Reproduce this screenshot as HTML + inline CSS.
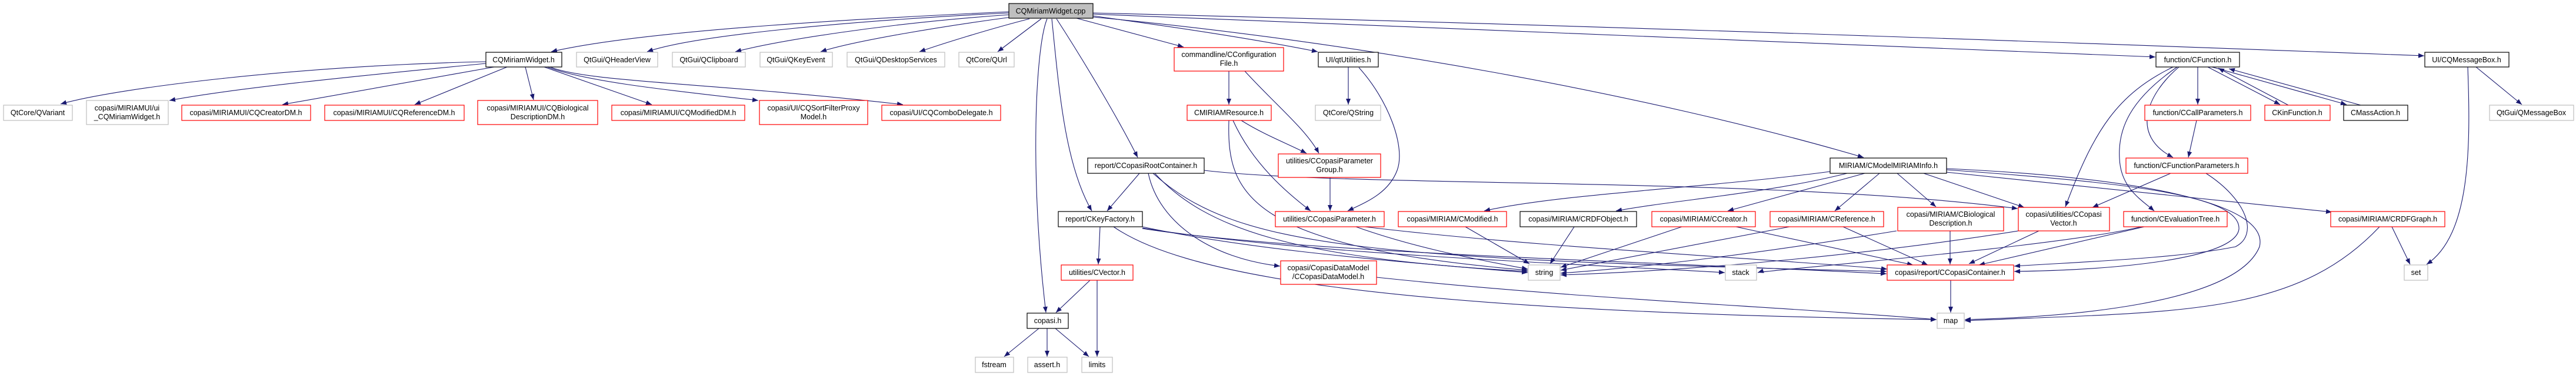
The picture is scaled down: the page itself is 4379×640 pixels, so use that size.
<!DOCTYPE html>
<html><head><meta charset="utf-8"><style>
html,body{margin:0;padding:0;background:#fff;}
svg{display:block;}
text{font-family:"Liberation Sans",sans-serif;font-size:12.5px;fill:#000;}
.e{fill:none;stroke:#191970;stroke-width:1.1;marker-end:url(#a);}
.k{fill:#fff;stroke:#000;stroke-width:1.2;}
.r{fill:#fff;stroke:#ff0000;stroke-width:1.2;}
.g{fill:#fff;stroke:#bfbfbf;stroke-width:1.2;}
</style></head><body>
<svg width="4379" height="640" viewBox="0 0 4379 640" xmlns="http://www.w3.org/2000/svg">
<defs><marker id="a" markerUnits="userSpaceOnUse" markerWidth="11" markerHeight="8" refX="10" refY="4" orient="auto"><path d="M0,0 L10,4 L0,8 z" fill="#191970"/></marker></defs>
<g>
<!-- from cpp -->
<path class="e" d="M1715,20 C1500,30 1100,50 937,88"/>
<path class="e" d="M1715,22 C1450,35 1180,60 1100,88"/>
<path class="e" d="M1716,25 C1500,40 1320,70 1250,88"/>
<path class="e" d="M1720,29 C1600,45 1450,70 1395,88"/>
<path class="e" d="M1750,32 C1680,50 1600,75 1563,88"/>
<path class="e" d="M1770,32 L1696,88"/>
<path class="e" d="M1780,32 C1760,80 1750,300 1778,532"/>
<path class="e" d="M1788,32 C1800,150 1810,280 1856,359"/>
<path class="e" d="M1796,32 C1840,100 1900,200 1934,268"/>
<path class="e" d="M1830,31 L2012,80"/>
<path class="e" d="M1858,27 C1950,40 2100,60 2240,88"/>
<path class="e" d="M1858,29 C2300,70 2800,160 3168,268"/>
<path class="e" d="M1858,24 Q2600,50 3664,97"/>
<path class="e" d="M1858,22 Q2800,45 4121,95"/>
<!-- CQMiriamWidget.h -->
<path class="e" d="M826,105 C500,112 200,150 103,177"/>
<path class="e" d="M826,108 C600,130 400,150 288,171"/>
<path class="e" d="M840,114 L480,178"/>
<path class="e" d="M862,114 L705,178"/>
<path class="e" d="M893,114 L907,170"/>
<path class="e" d="M925,114 L1108,178"/>
<path class="e" d="M930,114 C1000,140 1150,155 1289,171"/>
<path class="e" d="M935,114 C1000,140 1200,140 1535,178"/>
<!-- config / resource -->
<path class="e" d="M2089,121 L2089,178"/>
<path class="e" d="M2116,121 C2170,180 2220,220 2242,261"/>
<path class="e" d="M2110,205 C2150,230 2190,245 2221,261"/>
<path class="e" d="M2096,205 C2130,280 2190,330 2228,359"/>
<path class="e" d="M2089,205 C2085,330 2120,420 2597,460"/>
<path class="e" d="M2292,114 L2292,178"/>
<path class="e" d="M2310,115 C2360,170 2390,250 2375,290 C2360,330 2320,345 2291,359"/>
<path class="e" d="M2261,302 L2261,359"/>
<path class="e" d="M2305,386 C2400,420 2500,440 2597,458"/>
<path class="e" d="M2320,386 C2600,420 3000,440 3208,458"/>
<!-- root container / key factory -->
<path class="e" d="M1937,295 L1882,359"/>
<path class="e" d="M1952,295 C1970,380 2060,440 2176,453"/>
<path class="e" d="M2047,290 C2300,320 3000,300 3430,355"/>
<path class="e" d="M1963,295 C2050,390 2200,440 2597,462"/>
<path class="e" d="M1960,295 C2100,420 2300,440 3207,462"/>
<path class="e" d="M1870,386 L1867,450"/>
<path class="e" d="M1942,386 C2100,420 2300,440 2597,464"/>
<path class="e" d="M1942,388 C2200,430 2600,445 2932,464"/>
<path class="e" d="M1942,389 C2200,430 2800,445 3207,466"/>
<path class="e" d="M1893,386 C2000,460 2300,530 3292,544"/>
<path class="e" d="M2340,472 C2700,510 3000,520 3292,544"/>
<!-- CVector / copasi.h -->
<path class="e" d="M1853,477 L1795,532"/>
<path class="e" d="M1865,477 L1865,607"/>
<path class="e" d="M1766,559 L1707,607"/>
<path class="e" d="M1780,559 L1780,607"/>
<path class="e" d="M1794,559 L1851,607"/>
<!-- ModelMIRIAMInfo -->
<path class="e" d="M3111,292 C2900,320 2650,330 2523,359"/>
<path class="e" d="M3140,295 C3000,330 2850,340 2747,359"/>
<path class="e" d="M3170,295 L2937,359"/>
<path class="e" d="M3195,295 L3119,359"/>
<path class="e" d="M3225,295 L3291,352"/>
<path class="e" d="M3270,295 L3441,353"/>
<path class="e" d="M3308,293 L3964,361"/>
<path class="e" d="M3309,289 C3600,310 3810,330 3806,390 C3800,440 3600,460 3424,462"/>
<path class="e" d="M3309,287 C3600,300 3860,340 3841,420 C3800,520 3500,540 3340,544"/>
<path class="e" d="M3750,295 C3820,340 3840,400 3800,420 C3700,440 3550,445 3424,453"/>
<!-- MIRIAM row -->
<path class="e" d="M2491,386 L2600,449"/>
<path class="e" d="M2676,386 L2635,449"/>
<path class="e" d="M2859,386 L2653,455"/>
<path class="e" d="M2951,386 L3252,451"/>
<path class="e" d="M3042,386 L2653,460"/>
<path class="e" d="M3133,386 L3277,451"/>
<path class="e" d="M3224,393 C3000,430 2800,455 2653,465"/>
<path class="e" d="M3315,393 L3315,450"/>
<path class="e" d="M3431,393 C3200,430 2900,460 2653,468"/>
<path class="e" d="M3466,393 L3347,449"/>
<path class="e" d="M3645,386 L3364,451"/>
<path class="e" d="M3640,386 C3500,420 3000,460 2988,464"/>
<path class="e" d="M3316,477 L3316,532"/>
<!-- function -->
<path class="e" d="M3690,295 L3557,353"/>
<path class="e" d="M3694,114 C3600,160 3560,220 3511,352"/>
<path class="e" d="M3701,114 C3620,170 3600,220 3603,270 C3605,320 3640,340 3662,359"/>
<path class="e" d="M3704,114 C3650,160 3620,230 3694,268"/>
<path class="e" d="M3736,114 L3736,178"/>
<path class="e" d="M3753,114 L3876,178"/>
<path class="e" d="M3760,114 L3989,178"/>
<path class="e" d="M3890,179 L3771,116"/>
<path class="e" d="M4013,179 L3789,117"/>
<path class="e" d="M3734,205 L3720,268"/>
<path class="e" d="M4209,114 L4287,178"/>
<path class="e" d="M4195,114 C4200,250 4200,400 4125,450"/>
<path class="e" d="M4066,386 L4097,450"/>
<path class="e" d="M4045,386 C3900,540 3700,530 3340,546"/>
</g>
<g>
<rect class="k" x="1715" y="6" width="143" height="25" style="fill:#bfbfbf"/><text x="1786" y="23" text-anchor="middle">CQMiriamWidget.cpp</text>
<rect class="k" x="826" y="89" width="129" height="25"/><text x="890" y="106" text-anchor="middle">CQMiriamWidget.h</text>
<rect class="g" x="980" y="89" width="138" height="25"/><text x="1049" y="106" text-anchor="middle">QtGui/QHeaderView</text>
<rect class="g" x="1143" y="89" width="124" height="25"/><text x="1205" y="106" text-anchor="middle">QtGui/QClipboard</text>
<rect class="g" x="1292" y="89" width="123" height="25"/><text x="1353" y="106" text-anchor="middle">QtGui/QKeyEvent</text>
<rect class="g" x="1440" y="89" width="166" height="25"/><text x="1523" y="106" text-anchor="middle">QtGui/QDesktopServices</text>
<rect class="g" x="1630" y="89" width="94" height="25"/><text x="1677" y="106" text-anchor="middle">QtCore/QUrl</text>
<rect class="r" x="1996" y="81" width="186" height="40"/><text x="2089" y="97" text-anchor="middle">commandline/CConfiguration</text><text x="2089" y="112" text-anchor="middle">File.h</text>
<rect class="k" x="2241" y="89" width="102" height="25"/><text x="2292" y="106" text-anchor="middle">UI/qtUtilities.h</text>
<rect class="k" x="3665" y="89" width="142" height="25"/><text x="3736" y="106" text-anchor="middle">function/CFunction.h</text>
<rect class="k" x="4122" y="89" width="143" height="25"/><text x="4193" y="106" text-anchor="middle">UI/CQMessageBox.h</text>

<rect class="g" x="6" y="179" width="117" height="26"/><text x="64" y="196" text-anchor="middle">QtCore/QVariant</text>
<rect class="g" x="147" y="171" width="139" height="41"/><text x="216" y="188" text-anchor="middle">copasi/MIRIAMUI/ui</text><text x="216" y="203" text-anchor="middle">_CQMiriamWidget.h</text>
<rect class="r" x="309" y="179" width="219" height="26"/><text x="418" y="196" text-anchor="middle">copasi/MIRIAMUI/CQCreatorDM.h</text>
<rect class="r" x="552" y="179" width="237" height="26"/><text x="670" y="196" text-anchor="middle">copasi/MIRIAMUI/CQReferenceDM.h</text>
<rect class="r" x="812" y="171" width="204" height="41"/><text x="914" y="188" text-anchor="middle">copasi/MIRIAMUI/CQBiological</text><text x="914" y="203" text-anchor="middle">DescriptionDM.h</text>
<rect class="r" x="1040" y="179" width="226" height="26"/><text x="1153" y="196" text-anchor="middle">copasi/MIRIAMUI/CQModifiedDM.h</text>
<rect class="r" x="1291" y="171" width="184" height="41"/><text x="1383" y="188" text-anchor="middle">copasi/UI/CQSortFilterProxy</text><text x="1383" y="203" text-anchor="middle">Model.h</text>
<rect class="r" x="1499" y="179" width="202" height="26"/><text x="1600" y="196" text-anchor="middle">copasi/UI/CQComboDelegate.h</text>
<rect class="r" x="2018" y="179" width="143" height="26"/><text x="2089" y="196" text-anchor="middle">CMIRIAMResource.h</text>
<rect class="g" x="2236" y="179" width="111" height="26"/><text x="2292" y="196" text-anchor="middle">QtCore/QString</text>
<rect class="r" x="3646" y="179" width="180" height="26"/><text x="3736" y="196" text-anchor="middle">function/CCallParameters.h</text>
<rect class="r" x="3850" y="179" width="111" height="26"/><text x="3905" y="196" text-anchor="middle">CKinFunction.h</text>
<rect class="k" x="3984" y="179" width="109" height="26"/><text x="4038" y="196" text-anchor="middle">CMassAction.h</text>
<rect class="g" x="4232" y="179" width="143" height="26"/><text x="4303" y="196" text-anchor="middle">QtGui/QMessageBox</text>

<rect class="r" x="2173" y="262" width="174" height="40"/><text x="2260" y="278" text-anchor="middle">utilities/CCopasiParameter</text><text x="2260" y="293" text-anchor="middle">Group.h</text>
<rect class="k" x="1849" y="269" width="198" height="26"/><text x="1948" y="286" text-anchor="middle">report/CCopasiRootContainer.h</text>
<rect class="k" x="3111" y="269" width="198" height="26"/><text x="3210" y="286" text-anchor="middle">MIRIAM/CModelMIRIAMInfo.h</text>
<rect class="r" x="3614" y="269" width="207" height="26"/><text x="3717" y="286" text-anchor="middle">function/CFunctionParameters.h</text>

<rect class="k" x="1799" y="360" width="143" height="26"/><text x="1870" y="377" text-anchor="middle">report/CKeyFactory.h</text>
<rect class="r" x="2168" y="360" width="185" height="26"/><text x="2260" y="377" text-anchor="middle">utilities/CCopasiParameter.h</text>
<rect class="r" x="2377" y="360" width="184" height="26"/><text x="2469" y="377" text-anchor="middle">copasi/MIRIAM/CModified.h</text>
<rect class="k" x="2584" y="360" width="198" height="26"/><text x="2683" y="377" text-anchor="middle">copasi/MIRIAM/CRDFObject.h</text>
<rect class="r" x="2808" y="360" width="176" height="26"/><text x="2896" y="377" text-anchor="middle">copasi/MIRIAM/CCreator.h</text>
<rect class="r" x="3009" y="360" width="193" height="26"/><text x="3105" y="377" text-anchor="middle">copasi/MIRIAM/CReference.h</text>
<rect class="r" x="3226" y="353" width="180" height="40"/><text x="3316" y="369" text-anchor="middle">copasi/MIRIAM/CBiological</text><text x="3316" y="384" text-anchor="middle">Description.h</text>
<rect class="r" x="3431" y="353" width="155" height="40"/><text x="3508" y="369" text-anchor="middle">copasi/utilities/CCopasi</text><text x="3508" y="384" text-anchor="middle">Vector.h</text>
<rect class="r" x="3610" y="360" width="176" height="26"/><text x="3698" y="377" text-anchor="middle">function/CEvaluationTree.h</text>
<rect class="r" x="3962" y="360" width="194" height="26"/><text x="4059" y="377" text-anchor="middle">copasi/MIRIAM/CRDFGraph.h</text>

<rect class="r" x="1804" y="451" width="122" height="26"/><text x="1865" y="468" text-anchor="middle">utilities/CVector.h</text>
<rect class="r" x="2177" y="444" width="163" height="40"/><text x="2258" y="460" text-anchor="middle">copasi/CopasiDataModel</text><text x="2258" y="475" text-anchor="middle">/CCopasiDataModel.h</text>
<rect class="g" x="2598" y="451" width="54" height="26"/><text x="2625" y="468" text-anchor="middle">string</text>
<rect class="g" x="2933" y="451" width="53" height="26"/><text x="2959" y="468" text-anchor="middle">stack</text>
<rect class="r" x="3208" y="451" width="215" height="26"/><text x="3315" y="468" text-anchor="middle">copasi/report/CCopasiContainer.h</text>
<rect class="g" x="4087" y="451" width="40" height="26"/><text x="4107" y="468" text-anchor="middle">set</text>

<rect class="k" x="1746" y="533" width="70" height="26"/><text x="1781" y="550" text-anchor="middle">copasi.h</text>
<rect class="g" x="3293" y="533" width="46" height="26"/><text x="3316" y="550" text-anchor="middle">map</text>

<rect class="g" x="1658" y="608" width="65" height="26"/><text x="1690" y="625" text-anchor="middle">fstream</text>
<rect class="g" x="1747" y="608" width="67" height="26"/><text x="1780" y="625" text-anchor="middle">assert.h</text>
<rect class="g" x="1839" y="608" width="52" height="26"/><text x="1865" y="625" text-anchor="middle">limits</text>
</g>
</svg>
</body></html>
